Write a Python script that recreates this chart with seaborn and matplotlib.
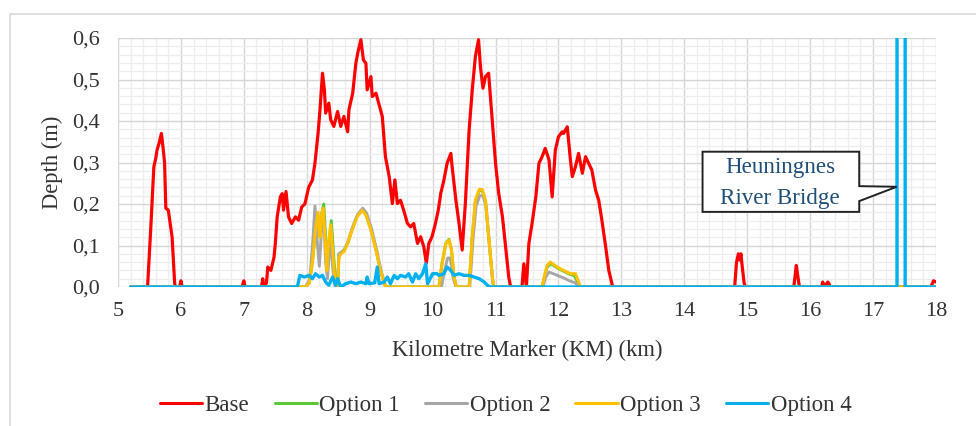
import matplotlib
matplotlib.use("Agg")
import matplotlib.pyplot as plt
import seaborn as sns
import pandas as pd
from matplotlib.ticker import MultipleLocator, FixedLocator, FixedFormatter
from matplotlib.patches import Polygon
from matplotlib.lines import Line2D

# ---------------- data ----------------
base_km = [5.20, 5.45, 5.47, 5.52, 5.57, 5.60, 5.62, 5.65, 5.69, 5.72, 5.74, 5.76, 5.80, 5.83, 5.86, 5.90, 5.91,
           5.98, 6.00, 6.02, 6.97, 7.00, 7.02, 7.28, 7.30, 7.32, 7.36, 7.38, 7.43, 7.48, 7.50, 7.53, 7.58, 7.61,
           7.63, 7.67, 7.71, 7.76, 7.82, 7.87, 7.92, 7.97, 8.03, 8.09, 8.13, 8.18, 8.21, 8.25, 8.28, 8.30, 8.35,
           8.38, 8.43, 8.49, 8.54, 8.59, 8.65, 8.67, 8.73, 8.78, 8.81, 8.86, 8.90, 8.94, 8.96, 9.02, 9.04, 9.10,
           9.15, 9.20, 9.25, 9.31, 9.36, 9.40, 9.44, 9.49, 9.54, 9.60, 9.65, 9.70, 9.76, 9.81, 9.86, 9.90, 9.94,
           9.99, 10.04, 10.09, 10.13, 10.18, 10.23, 10.29, 10.31, 10.37, 10.42, 10.47, 10.52, 10.58, 10.63, 10.68,
           10.73, 10.76, 10.80, 10.84, 10.89, 10.95, 11.00, 11.05, 11.11, 11.16, 11.21, 11.24, 11.42, 11.45, 11.49,
           11.53, 11.58, 11.61, 11.64, 11.69, 11.74, 11.79, 11.85, 11.90, 11.95, 12.00, 12.06, 12.08, 12.14, 12.19,
           12.22, 12.27, 12.32, 12.38, 12.43, 12.48, 12.53, 12.59, 12.64, 12.69, 12.75, 12.80, 12.85, 12.86,
           14.80, 14.83, 14.86, 14.88, 14.90, 14.92, 14.95, 14.97, 15.74, 15.78, 15.80, 15.83, 16.18, 16.20, 16.22,
           16.28, 16.30, 16.32, 17.92, 17.96, 18.00]
base_m = [0, 0, 0, 0.14, 0.29, 0.31, 0.33, 0.345, 0.37, 0.33, 0.30, 0.19, 0.185, 0.153, 0.12, 0.01, 0,
          0, 0.015, 0, 0, 0.015, 0, 0, 0.02, 0, 0.01, 0.048, 0.04, 0.072, 0.105, 0.169, 0.217, 0.225,
          0.185, 0.23, 0.169, 0.153, 0.169, 0.161, 0.193, 0.20, 0.24, 0.258, 0.298, 0.371, 0.427, 0.515, 0.475, 0.419, 0.443,
          0.403, 0.387, 0.423, 0.387, 0.411, 0.374, 0.427, 0.467, 0.539, 0.564, 0.596, 0.547, 0.539, 0.475, 0.507, 0.459, 0.467,
          0.439, 0.411, 0.314, 0.266, 0.201, 0.258, 0.201, 0.209, 0.185, 0.153, 0.145, 0.153, 0.105, 0.121, 0.097, 0.057, 0.105,
          0.121, 0.15, 0.185, 0.226, 0.258, 0.298, 0.322, 0.290, 0.209, 0.153, 0.089, 0.201, 0.378, 0.475, 0.556,
          0.596, 0.531, 0.479, 0.507, 0.515, 0.395, 0.298, 0.226, 0.169, 0.097, 0.024, 0, 0, 0.056, 0,
          0.105, 0.153, 0.185, 0.217, 0.298, 0.314, 0.334, 0.306, 0.217, 0.330, 0.362, 0.374, 0.370, 0.386, 0.306,
          0.266, 0.290, 0.322, 0.274, 0.314, 0.298, 0.282, 0.233, 0.209, 0.161, 0.097, 0.040, 0.008, 0,
          0, 0.06, 0.08, 0.065, 0.08, 0.05, 0.01, 0, 0, 0.052, 0.03, 0, 0, 0.012, 0,
          0.012, 0.008, 0, 0, 0.015, 0.012]

opt1_km = [5.20, 7.98, 8.04, 8.09, 8.14, 8.18, 8.21, 8.24, 8.27, 8.30, 8.33, 8.35, 8.39, 8.43, 8.46, 8.49,
           8.51, 8.54, 8.59, 8.65, 8.72, 8.80, 8.88, 8.94, 9.02, 9.10, 9.17, 9.24, 9.28,
           10.10, 10.15, 10.21, 10.26, 10.30, 10.34, 10.38, 10.58, 10.63, 10.68, 10.74, 10.79, 10.84, 10.89,
           10.95, 10.97, 11.74, 11.78, 11.82, 11.88, 11.98, 12.08, 12.19, 12.25, 12.31, 12.34, 18.00]
opt1_m = [0, 0, 0.01, 0.06, 0.14, 0.17, 0.12, 0.18, 0.20, 0.12, 0.04, 0.10, 0.16, 0.07, 0.01, 0,
          0.075, 0.083, 0.088, 0.107, 0.139, 0.171, 0.187, 0.175, 0.139, 0.09, 0.04, 0.004, 0,
          0, 0.057, 0.105, 0.115, 0.09, 0.024, 0, 0, 0.12, 0.207, 0.232, 0.232, 0.207, 0.12,
          0.024, 0, 0, 0.025, 0.048, 0.056, 0.046, 0.038, 0.030, 0.028, 0.01, 0, 0]

opt2_km = [5.20, 7.98, 8.05, 8.10, 8.13, 8.16, 8.20, 8.24, 8.27, 8.30, 8.33, 8.37, 8.41, 8.45, 8.49,
           8.51, 8.56, 8.60, 8.66, 8.73, 8.81, 8.89, 8.95, 9.03, 9.11, 9.18, 9.25, 9.29,
           10.14, 10.19, 10.24, 10.28, 10.33, 10.37, 10.59, 10.64, 10.69, 10.75, 10.80, 10.85, 10.90, 10.95,
           10.97, 11.75, 11.80, 11.85, 11.95, 12.08, 12.19, 12.27, 12.31, 18.00]
opt2_m = [0, 0, 0.02, 0.12, 0.195, 0.12, 0.05, 0.15, 0.17, 0.06, 0.02, 0.12, 0.05, 0, 0,
          0.08, 0.085, 0.09, 0.11, 0.145, 0.175, 0.19, 0.178, 0.14, 0.09, 0.04, 0.004, 0,
          0, 0.04, 0.07, 0.07, 0.02, 0, 0, 0.11, 0.195, 0.22, 0.22, 0.195, 0.11, 0.02,
          0, 0, 0.025, 0.036, 0.03, 0.022, 0.014, 0.01, 0, 0]

opt3_km = [5.20, 7.98, 8.04, 8.09, 8.14, 8.18, 8.21, 8.23, 8.26, 8.29, 8.32, 8.34, 8.38, 8.42, 8.45, 8.49,
           8.51, 8.54, 8.59, 8.65, 8.72, 8.80, 8.88, 8.94, 9.02, 9.10, 9.17, 9.24, 9.28,
           10.10, 10.15, 10.21, 10.26, 10.30, 10.34, 10.38, 10.58, 10.63, 10.68, 10.74, 10.79, 10.84, 10.89,
           10.95, 10.97, 11.74, 11.78, 11.82, 11.87, 11.98, 12.08, 12.19, 12.27, 12.32, 12.35, 18.00]
opt3_m = [0, 0, 0.01, 0.06, 0.14, 0.18, 0.12, 0.17, 0.19, 0.12, 0.04, 0.10, 0.15, 0.07, 0.01, 0,
          0.07, 0.08, 0.085, 0.105, 0.137, 0.169, 0.185, 0.173, 0.137, 0.089, 0.04, 0.004, 0,
          0, 0.057, 0.105, 0.113, 0.089, 0.024, 0, 0, 0.121, 0.209, 0.235, 0.235, 0.209, 0.121,
          0.024, 0, 0, 0.028, 0.052, 0.06, 0.048, 0.04, 0.032, 0.032, 0.012, 0, 0]

opt4_km = [5.20, 7.85, 7.89, 7.96, 8.04, 8.09, 8.14, 8.20, 8.25, 8.30, 8.35, 8.41, 8.46, 8.49, 8.54, 8.62,
           8.70, 8.78, 8.86, 8.94, 8.96, 8.99, 9.08, 9.12, 9.15, 9.23, 9.28, 9.33, 9.39, 9.44, 9.49, 9.57,
           9.62, 9.68, 9.73, 9.78, 9.84, 9.89, 9.92, 10.00, 10.07, 10.10, 10.18, 10.23, 10.29, 10.34, 10.42,
           10.50, 10.58, 10.66, 10.74, 10.82, 10.87, 10.92, 17.38, 17.38, 17.51, 17.51, 18.00]
opt4_m = [0, 0, 0.028, 0.024, 0.028, 0.020, 0.032, 0.024, 0.028, 0.012, 0.004, 0.024, 0.004, 0.020, 0, 0.008,
          0.012, 0.008, 0.012, 0.008, 0.024, 0.008, 0.010, 0.048, 0.008, 0.012, 0.024, 0.008, 0.028, 0.020, 0.028, 0.024,
          0.032, 0.012, 0.032, 0.020, 0.032, 0.056, 0.008, 0.032, 0.032, 0.028, 0.032, 0.048, 0.040, 0.028, 0.032,
          0.028, 0.028, 0.024, 0.020, 0.012, 0.004, 0, 0, 3.0, 3.0, 0, 0]

series_names = ["Base", "Option 1", "Option 2", "Option 3", "Option 4"]
series_colors = ["#ff0000", "#5cc738", "#a6a6a6", "#ffc000", "#00b0f0"]
series_widths = [2.3, 2.1, 2.1, 2.2, 2.4]

x_ticks = [5, 6, 7, 8, 9, 10, 11, 12, 13, 14, 15, 16, 17, 18]
y_ticks = [0.0, 0.1, 0.2, 0.3, 0.4, 0.5, 0.6]
y_tick_labels = ["0,0", "0,1", "0,2", "0,3", "0,4", "0,5", "0,6"]

callout_lines = ["Heuningnes", "River Bridge"]

# ---------------- plot ----------------
sns.set_theme(style="white")
plt.rcParams["font.family"] = ["Liberation Serif", "DejaVu Serif"]

fig = plt.figure(figsize=(9.76, 4.26), dpi=100)
ax = fig.add_axes([118 / 976, 1 - 287 / 426, 818 / 976, 249 / 426])

data = [(base_km, base_m), (opt1_km, opt1_m), (opt2_km, opt2_m), (opt3_km, opt3_m), (opt4_km, opt4_m)]
for (xs, ys), name, col, lw in zip(data, series_names, series_colors, series_widths):
    df = pd.DataFrame({"km": xs, "depth": ys})
    sns.lineplot(data=df, x="km", y="depth", ax=ax, color=col, linewidth=lw,
                 estimator=None, sort=False, label=name, zorder=3)

ax.set_xlim(5, 18)
ax.set_ylim(0, 0.6)
ax.xaxis.set_major_locator(FixedLocator(x_ticks))
ax.xaxis.set_minor_locator(MultipleLocator(0.2))
ax.yaxis.set_major_locator(FixedLocator(y_ticks))
ax.yaxis.set_major_formatter(FixedFormatter(y_tick_labels))
ax.yaxis.set_minor_locator(MultipleLocator(0.02))
ax.grid(which="major", color="#d6d6d6", linewidth=1.0, zorder=0)
ax.grid(which="minor", color="#ededed", linewidth=0.9, zorder=0)
ax.set_axisbelow(True)
for s in ax.spines.values():
    s.set_visible(False)
ax.tick_params(axis="both", which="both", length=0, labelsize=16, colors="#333333")
ax.tick_params(axis="y", pad=13)
ax.tick_params(axis="x", pad=11)

ax.set_xlabel("Kilometre Marker (KM) (km)", fontsize=16.3, color="#333333")
ax.set_ylabel("Depth (m)", fontsize=16.3, color="#333333")
ax.xaxis.set_label_coords(0.5, -0.253)
ax.yaxis.set_label_coords(-0.0807, 0.5)
ax.xaxis.label.set_va("center")
ax.yaxis.label.set_va("center")

leg = ax.legend(loc="center", bbox_to_anchor=(0.474, -0.474), ncol=5, frameon=False,
                handlelength=1.85, handletextpad=0.1, columnspacing=1.1, fontsize=16.5)
for t in leg.get_texts():
    t.set_color("#333333")
for h in leg.get_lines():
    h.set_linewidth(2.2)

# callout box for the bridge
callout = Polygon([(14.29, 0.326), (16.78, 0.326), (16.78, 0.243), (17.376, 0.2415),
                   (16.78, 0.207), (16.78, 0.181), (14.29, 0.181)],
                  closed=True, facecolor="white", edgecolor="#222222", linewidth=1.4, zorder=4)
ax.add_patch(callout)
ax.text(15.52, 0.289, callout_lines[0], ha="center", va="center", fontsize=16.6, color="#1f4e79", zorder=5)
ax.text(15.52, 0.214, callout_lines[1], ha="center", va="center", fontsize=16.6, color="#1f4e79", zorder=5)

# outer frame of the chart area
fig.add_artist(Line2D([10 / 976, 10 / 976, 1.0], [0.0, 1 - 14 / 426, 1 - 14 / 426],
                      transform=fig.transFigure, color="#d9d9d9", linewidth=1.2))

fig.savefig("out.png", dpi=100)
